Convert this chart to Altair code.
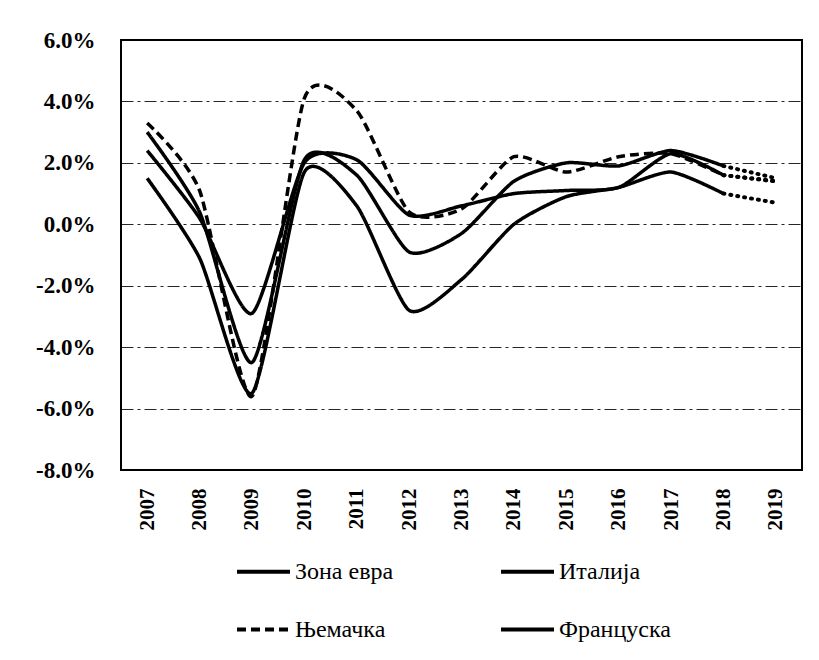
import altair as alt
import pandas as pd

years = [str(y) for y in range(2007, 2020)]
series_names = ["Зона евра", "Италија", "Њемачка", "Француска"]

euro_area = [3.0, 0.4, -4.5, 2.1, 1.6, -0.9, -0.3, 1.4, 2.0, 1.9, 2.4, 1.9, 1.5]
italy = [1.5, -1.1, -5.5, 1.7, 0.6, -2.8, -1.8, 0.0, 0.9, 1.2, 1.7, 1.0, 0.7]
germany = [3.3, 1.1, -5.6, 4.1, 3.7, 0.4, 0.5, 2.2, 1.7, 2.2, 2.3, 1.6, 1.4]
france = [2.4, 0.2, -2.9, 2.0, 2.1, 0.3, 0.6, 1.0, 1.1, 1.2, 2.3, 1.6, 1.4]

values = {"Зона евра": euro_area, "Италија": italy, "Њемачка": germany, "Француска": france}

rows = []
for name in series_names:
    for y, v in zip(years, values[name]):
        rows.append({"year": y, "series": name, "value": v})
df = pd.DataFrame(rows)

hist = df[df["year"] <= "2018"]
fcst = df[df["year"] >= "2018"]

FONT = "Liberation Serif"

x_enc = alt.X(
    "year:O",
    sort=years,
    scale=alt.Scale(domain=years),
    axis=alt.Axis(
        title=None, labelAngle=270, labelAlign="right", labelBaseline="middle",
        labelFont=FONT, labelFontWeight="bold", labelFontSize=21, labelColor="black",
        labelPadding=18, ticks=False, domain=False, grid=False,
    ),
)
y_enc = alt.Y(
    "value:Q",
    scale=alt.Scale(domain=[-8, 6], nice=False, zero=False),
    axis=alt.Axis(
        title=None, values=[-8, -6, -4, -2, 0, 2, 4, 6],
        labelExpr="(datum.value < 0 ? '-' : '') + format(abs(datum.value), '.1f') + '%'",
        labelFont=FONT, labelFontWeight="bold", labelFontSize=23, labelColor="black",
        labelPadding=26, ticks=False, domain=False,
        grid=True, gridColor="black", gridDash=[12, 4, 3, 4], gridWidth=1, gridOpacity=0.85,
    ),
)

legend_cfg = dict(
    title=None, orient="none", legendX=114, legendY=503, columns=2,
    direction="horizontal", symbolType="stroke", symbolSize=2809,
    symbolStrokeWidth=4, labelFont=FONT, labelFontSize=24, labelColor="black",
    labelOffset=3, columnPadding=99, rowPadding=17,
)

base_lines = alt.Chart(hist).mark_line(interpolate="cardinal", tension=0.35, strokeWidth=3.5).encode(
    x=x_enc,
    y=y_enc,
    color=alt.Color(
        "series:N",
        scale=alt.Scale(domain=series_names, range=["black"] * 4),
        legend=alt.Legend(**legend_cfg),
    ),
    strokeDash=alt.StrokeDash(
        "series:N",
        scale=alt.Scale(domain=series_names, range=[[1, 0], [1, 0], [9, 5], [1, 0]]),
        legend=alt.Legend(**legend_cfg),
    ),
    detail="series:N",
)

forecast_lines = alt.Chart(fcst).mark_line(
    interpolate="linear", strokeWidth=4, strokeDash=[1, 6], strokeCap="round", color="black"
).encode(
    x=x_enc,
    y=y_enc,
    detail="series:N",
)

chart = alt.layer(base_lines, forecast_lines).properties(
    width=681, height=430,
    autosize=alt.AutoSizeParams(type="none"),
    padding={"left": 113, "top": 32, "right": 8, "bottom": 180},
    background="white",
).configure_view(stroke="black", strokeWidth=2)

chart.save("out.html", embed_options={"renderer": "svg", "actions": False})
